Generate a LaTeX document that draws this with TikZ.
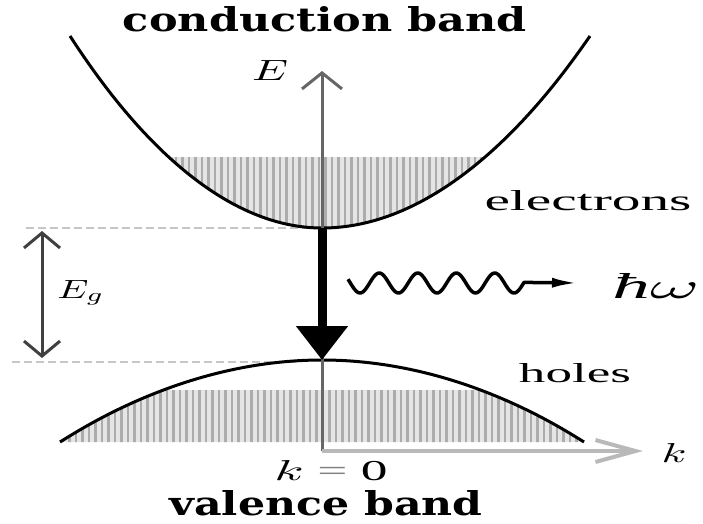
\documentclass[tikz,border=0pt]{standalone}
\usepackage{fontspec}
\usepackage{graphicx}
\setmainfont{Liberation Serif}
\newfontfamily\boldserif{DejaVu Serif}
\usetikzlibrary{arrows.meta}
\begin{document}
\begin{tikzpicture}[x=1pt,y=-1pt,
  band/.style={line width=3pt, black},
  hatch/.style={gray!65, line width=2.2pt},
  gapline/.style={gray!45, line width=2.5pt, dash pattern=on 8pt off 4pt},
  axis/.style={line width=3pt, black!60},
  lbl/.style={inner sep=0pt, anchor=base}]
\useasboundingbox (0,0) rectangle (703,523);
\coordinate (cL) at (70,36);
\coordinate (cmin) at (322,228);
\coordinate (cR) at (590,36);
\coordinate (vL) at (60,442);
\coordinate (vpeak) at (322,360);
\coordinate (vR) at (584,442);
\coordinate (O) at (322,451);
\coordinate (Etop) at (322,71);
\coordinate (ktip) at (643,451);
\coordinate (gT) at (42,231);
\coordinate (gB) at (42,358);
\coordinate (dT0) at (26,228);
\coordinate (dB0) at (12,362);
\coordinate (dB1) at (300,362);
\coordinate (wE) at (578,283);
% hatching in conduction band
\begin{scope}
\clip (0,157) rectangle (703,240);
\clip (cL) parabola bend (cmin) (cR) -- cycle;
\fill[gray!20] (0,0) rectangle (703,523);
\foreach \x in {150,156.5,...,500} \draw[hatch] (\x,150) -- (\x,240);
\end{scope}
% hatching in valence band
\begin{scope}
\clip (0,390) rectangle (703,446);
\clip (vL) parabola bend (vpeak) (vR) -- cycle;
\fill[gray!20] (0,0) rectangle (703,523);
\foreach \x in {50,56.5,...,600} \draw[hatch] (\x,380) -- (\x,450);
\end{scope}
% dashed gap lines
\draw[gapline] (dT0) -- (cmin);
\draw[gapline] (dB0) -- (dB1);
% bands
\draw[band] (cL) parabola bend (cmin) (cR);
\draw[band] (vL) parabola bend (vpeak) (vR);
% axes
\draw[axis, -{Straight Barb[length=16pt,width=40pt]}] (O) -- (Etop);
\draw[line width=4pt, gray!55, -{Straight Barb[length=40pt,width=22pt]}] (O) -- (ktip);
% gap arrow
\draw[line width=3pt, black!75, {Straight Barb[length=15pt,width=36pt]}-{Straight Barb[length=15pt,width=36pt]}] (gT) -- (gB);
% transition arrow
\draw[line width=9pt, -{Triangle[length=34pt,width=50pt]}] (cmin) -- (vpeak);
% photon
\draw[line width=3.5pt, line join=round, -{Latex[length=26pt,width=10pt]}]
  plot[domain=348:524, samples=120] (\x, {283+10*cos(9.3506*(\x-360))}) -- (wE);
% labels
\node[lbl] (cb) at (325,31) {\resizebox{404pt}{25pt}{\boldserif\bfseries conduction band}};
\node[lbl] (vb) at (326,515) {\resizebox{313pt}{25pt}{\boldserif\bfseries valence band}};
\node[lbl] (el) at (588,210) {\resizebox{207pt}{20pt}{electrons}};
\node[lbl] (ho) at (575,382) {\resizebox{112pt}{19pt}{holes}};
\node[lbl] (El) at (270,80) {\resizebox{36pt}{20pt}{$E$}};
\node[lbl] (Eg) at (81,298) {\resizebox{47pt}{18pt}{$E_g$}};
\node[lbl] (hw) at (656,298) {\resizebox{87pt}{25pt}{{\itshape ħ}$\omega$}};
\node[lbl] (kl) at (674,462) {\resizebox{25pt}{19pt}{$k$}};
\node[lbl] (k0) at (331,480) {\resizebox{113pt}{20pt}{$k$ \textcolor{gray}{=} 0}};
\end{tikzpicture}
\end{document}
